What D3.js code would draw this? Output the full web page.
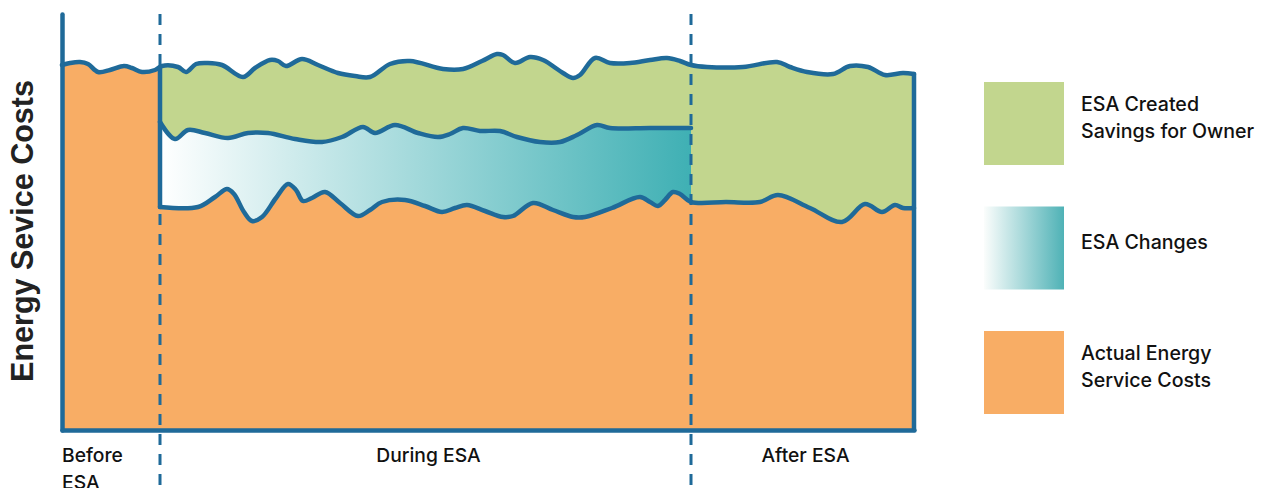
<!DOCTYPE html>
<html>
<head>
<meta charset="utf-8">
<script src="https://cdn.jsdelivr.net/npm/d3@7"></script>
<style>
  body { margin: 0; background: #ffffff; }
  svg { display: block; }
</style>
</head>
<body>
<svg id="chart" width="1262" height="488"></svg>
<script>
// Period boundaries along the time axis (months) and their names
const periodBounds = [0, 24.5, 157.25, 213];
const periodNames = [["Before", "ESA"], ["During ESA"], ["After ESA"]];

// Energy service cost without the ESA (upper edge of the whole stack)
const baselineCost = [
  [0, 91.25], [2, 91.75], [4.5, 92], [6.5, 91.5], [9, 89.5], [12, 90],
  [15.5, 91], [17.5, 90.5], [20, 89.5], [23.25, 90], [25, 91], [29, 90.75],
  [31, 89.5], [33.5, 91.5], [36.5, 91.75], [40, 91.25], [45.25, 88.25],
  [48.25, 90.5], [52, 92.5], [54, 92.25], [56, 91], [60, 92.75], [64, 91.25],
  [69, 89.25], [73.25, 88.5], [77, 88.25], [82, 91.5], [87, 92.25],
  [95.25, 90.25], [100.25, 90.25], [105, 92.25], [108.75, 94], [110.25, 93.75],
  [113.25, 91.75], [117, 93.25], [120.25, 92.5], [125.25, 89.25], [127.75, 88],
  [129.5, 88.75], [133.25, 93], [137, 91.75], [142, 91.75], [147, 92.5],
  [151.25, 93], [154.5, 92.25], [157.25, 91.25], [161.25, 90.75],
  [170.25, 90.75], [178.75, 92], [182, 90.75], [186.25, 89.5], [192.75, 89],
  [197, 91], [201.5, 90.75], [205.75, 88.75], [210.25, 89.25], [213, 89]
];

// Upper edge of the ESA changes band during the agreement
const changesTop = [
  [24.5, 77], [28.25, 72.75], [31.5, 75], [35.75, 74.25], [41.5, 73],
  [46.5, 74.25], [51.5, 74.25], [58.25, 72.75], [65, 72], [70, 73.25],
  [75.25, 75.75], [78.25, 74.25], [83.25, 76.25], [89, 74.25], [94, 73.25],
  [97, 74], [100.25, 75.5], [104.5, 74.75], [109.5, 74.75], [113.75, 73.25],
  [119.5, 72], [124.5, 72], [128.75, 73.75], [133.75, 76.25], [137, 75.5],
  [147, 75.5], [157.25, 75.5]
];

// Actual energy service cost from the start of the agreement onwards
const actualCost = [
  [24.5, 55.75], [34, 55.75], [38.25, 58.25], [41.25, 60.25], [43, 59],
  [45.5, 54.5], [47.5, 52.25], [50, 53.25], [53.5, 58], [56.5, 61.5],
  [58.5, 60], [60.25, 57.25], [62.5, 58], [65.75, 59.5], [69.5, 56.75],
  [74, 53.5], [77, 55], [80, 57], [85.75, 57.5], [90.75, 56], [95, 54.5],
  [98.25, 55.5], [101.25, 56.25], [105.75, 54.75], [110.25, 53.25],
  [112.75, 53.5], [117.75, 56.75], [122.75, 55], [127.75, 53.25],
  [130.75, 53.25], [137.5, 55.5], [144.5, 58.25], [147, 57], [149, 56],
  [150.75, 57.5], [152.75, 59.5], [154.5, 59], [157.25, 57], [166, 57],
  [174.5, 57], [179, 58.75], [187, 55.5], [195, 52], [200.75, 56.5],
  [205, 54.5], [208.25, 56.25], [210.25, 55.5], [213, 55.5]
];

const legendLabels = [["ESA Created", "Savings for Owner"], ["ESA Changes"], ["Actual Energy", "Service Costs"]];
const yTitle = "Energy Sevice Costs";

const width = 1262, height = 488;
const blue = "#1f6a99", orange = "#f8ad65", green = "#c2d68e";
const tealLight = "#ffffff", tealDark = "#3fb0b4";

const svg = d3.select("#chart");
const x = d3.scaleLinear().domain([periodBounds[0], periodBounds[3]]).range([62, 914]);
const y = d3.scaleLinear().domain([0, 104]).range([430, 14]);
const curve = d3.curveCatmullRom.alpha(0.5);

function valueAt(series, t) {
  const i = d3.bisector(d => d[0]).left(series, t);
  if (i <= 0) return series[0][1];
  if (i >= series.length) return series[series.length - 1][1];
  const a = series[i - 1], b = series[i];
  return a[1] + (b[1] - a[1]) * (t - a[0]) / (b[0] - a[0]);
}

const defs = svg.append("defs");
defs.append("clipPath").attr("id", "clip-before").append("rect")
  .attr("x", x(periodBounds[0])).attr("y", 0)
  .attr("width", x(periodBounds[1]) - x(periodBounds[0])).attr("height", height);
defs.append("clipPath").attr("id", "clip-esa").append("rect")
  .attr("x", x(periodBounds[1])).attr("y", 0)
  .attr("width", x(periodBounds[3]) - x(periodBounds[1])).attr("height", height);

const grad = defs.append("linearGradient").attr("id", "changes-grad")
  .attr("gradientUnits", "userSpaceOnUse")
  .attr("x1", x(periodBounds[1])).attr("x2", x(periodBounds[2]))
  .attr("y1", 0).attr("y2", 0);
grad.append("stop").attr("offset", 0).attr("stop-color", tealLight);
grad.append("stop").attr("offset", 1).attr("stop-color", tealDark);

const legendGrad = defs.append("linearGradient").attr("id", "legend-grad");
legendGrad.append("stop").attr("offset", 0).attr("stop-color", "#fbfdfc");
legendGrad.append("stop").attr("offset", 1).attr("stop-color", "#4fb2b6");

const area = d3.area().x(d => x(d[0])).y0(y(0)).y1(d => y(d[1])).curve(curve);
const line = d3.line().x(d => x(d[0])).y(d => y(d[1])).curve(curve);

// Savings band (everything below the baseline, once the ESA starts)
svg.append("path").datum(baselineCost).attr("d", area)
  .attr("fill", green).attr("clip-path", "url(#clip-esa)");
// ESA changes band
svg.append("path").datum(changesTop).attr("d", area)
  .attr("fill", "url(#changes-grad)");
// Actual costs
svg.append("path").datum(baselineCost).attr("d", area)
  .attr("fill", orange).attr("clip-path", "url(#clip-before)");
svg.append("path").datum(actualCost).attr("d", area).attr("fill", orange);

// Period separators
svg.append("g").selectAll("line")
  .data(periodBounds.slice(1, 3))
  .join("line")
  .attr("x1", d => x(d)).attr("x2", d => x(d))
  .attr("y1", y(104)).attr("y2", height)
  .attr("stroke", blue).attr("stroke-width", 3)
  .attr("stroke-dasharray", "11,9");

// Outlines
const strokes = svg.append("g").attr("fill", "none").attr("stroke", blue)
  .attr("stroke-width", 4.5).attr("stroke-linejoin", "round").attr("stroke-linecap", "round");
strokes.append("path").datum(baselineCost).attr("d", line);
strokes.append("path").datum(changesTop).attr("d", line);
strokes.append("path").datum(actualCost).attr("d", line);
strokes.append("line")
  .attr("x1", x(periodBounds[1])).attr("x2", x(periodBounds[1]))
  .attr("y1", y(valueAt(baselineCost, periodBounds[1]))).attr("y2", y(actualCost[0][1]));
strokes.append("line")
  .attr("x1", x(periodBounds[3])).attr("x2", x(periodBounds[3]))
  .attr("y1", y(baselineCost[baselineCost.length - 1][1])).attr("y2", y(0));

// Axes (lines only)
const axisY = svg.append("g").attr("transform", `translate(${x(0)},0)`)
  .call(d3.axisLeft(y).tickValues([]).tickSizeOuter(0));
const axisX = svg.append("g").attr("transform", `translate(0,${y(0)})`)
  .call(d3.axisBottom(x).tickValues([]).tickSizeOuter(0));
[axisY, axisX].forEach(g => g.select(".domain")
  .attr("stroke", blue).attr("stroke-width", 4.5).attr("stroke-linecap", "round"));

// Period labels
const labelFont = "Inter, Roboto, 'Noto Sans', sans-serif";
periodNames.forEach((lines, i) => {
  const first = i === 0;
  const tx = first ? x(periodBounds[0]) : (x(periodBounds[i]) + x(periodBounds[i + 1])) / 2 + 3;
  const t = svg.append("text")
    .attr("x", tx).attr("y", y(0) + 32)
    .attr("text-anchor", first ? "start" : "middle")
    .attr("font-family", labelFont).attr("font-size", 19.3).attr("font-weight", 500)
    .attr("fill", "#111");
  lines.forEach((s, j) => t.append("tspan").attr("x", tx).attr("dy", j ? 27 : 0).text(s));
});

// Y title
svg.append("text")
  .attr("transform", "translate(33,231) rotate(-90)")
  .attr("text-anchor", "middle")
  .attr("font-family", "'Liberation Sans', Arial, sans-serif")
  .attr("font-weight", 700).attr("font-size", 30.5)
  .attr("fill", "#222")
  .text(yTitle);

// Legend
const legendFills = [green, "url(#legend-grad)", orange];
const legendTops = [82, 206.5, 331];
const legend = svg.append("g");
legendLabels.forEach((lines, i) => {
  legend.append("rect")
    .attr("x", 984).attr("y", legendTops[i]).attr("width", 80).attr("height", 83)
    .attr("fill", legendFills[i]);
  const cy = legendTops[i] + 41.5;
  const t = legend.append("text")
    .attr("x", 1081)
    .attr("font-family", labelFont).attr("font-size", 19.6).attr("font-weight", 500)
    .attr("fill", "#111");
  const startY = cy + 1 - (lines.length - 1) * 13.3;
  lines.forEach((s, j) => t.append("tspan").attr("x", 1081).attr("y", startY + j * 26.6).text(s));
});
</script>
</body>
</html>
